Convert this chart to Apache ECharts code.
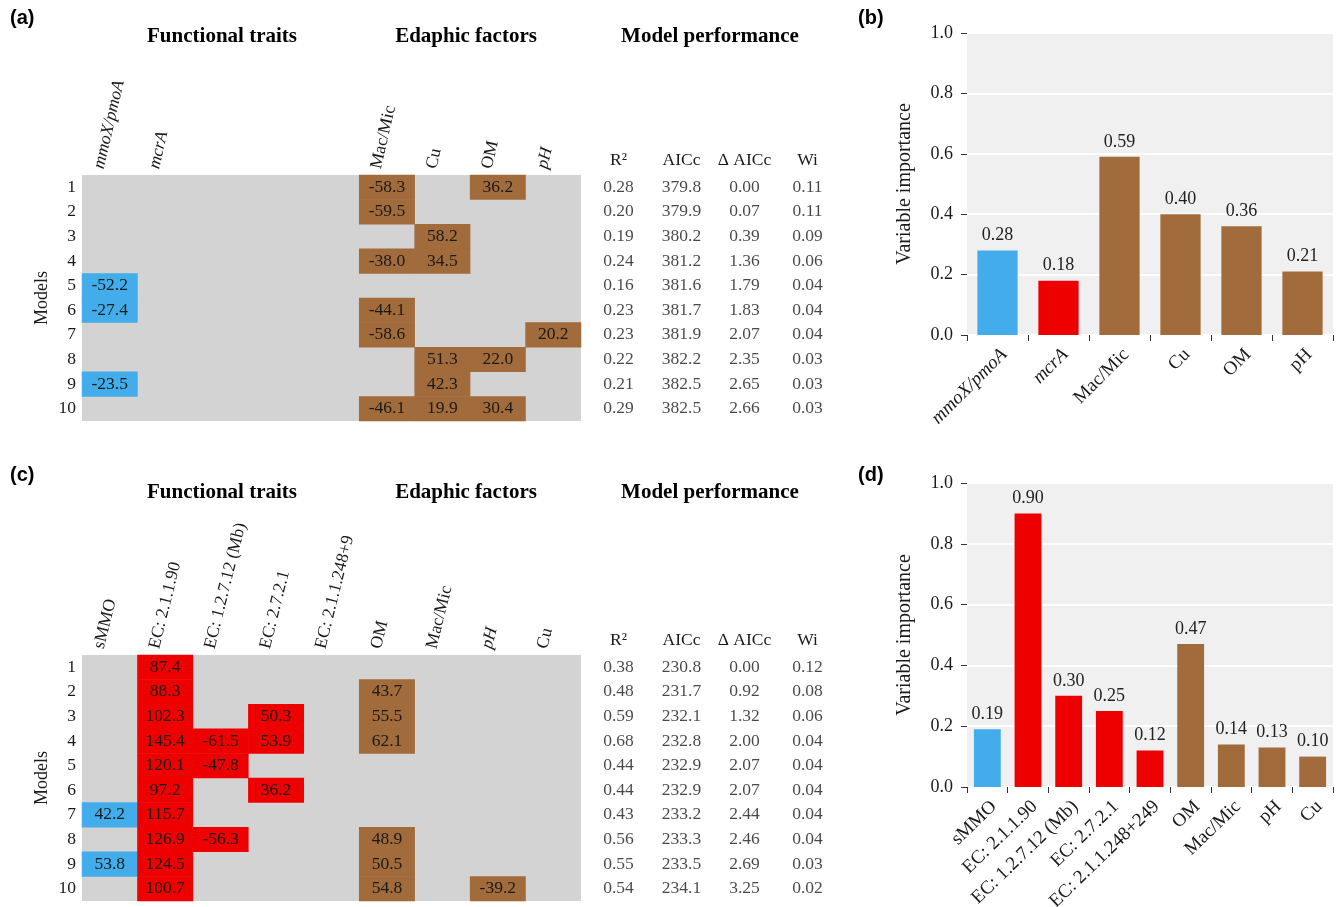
<!DOCTYPE html>
<html><head><meta charset="utf-8">
<script src="https://cdn.jsdelivr.net/npm/echarts@6/dist/echarts.min.js"></script>
<style>html,body{margin:0;padding:0;background:#fff}#c{width:1343px;height:907px}</style>
</head><body><div id="c"></div><script>
// ---------- data ----------
const modelLabels = ['1','2','3','4','5','6','7','8','9','10'];
const perfHeaders = ['R²','AICc','Δ AICc','Wi'];

// panel (a)
const colsA = ['mmoX/pmoA','mcrA',' ','  ','   ','Mac/Mic','Cu','OM','pH'];
const colGroupA = ['mt','mg','','','','ed','ed','ed','ed'];
const italicColsA = ['mmoX/pmoA','mcrA','pH'];
const cellsA = [
  [5,0,-58.3],[7,0,36.2],
  [5,1,-59.5],
  [6,2,58.2],
  [5,3,-38.0],[6,3,34.5],
  [0,4,-52.2],
  [0,5,-27.4],[5,5,-44.1],
  [5,6,-58.6],[8,6,20.2],
  [6,7,51.3],[7,7,22.0],
  [0,8,-23.5],[6,8,42.3],
  [5,9,-46.1],[6,9,19.9],[7,9,30.4]
];
const r2A    = [0.28,0.20,0.19,0.24,0.16,0.23,0.23,0.22,0.21,0.29];
const aiccA  = [379.8,379.9,380.2,381.2,381.6,381.7,381.9,382.2,382.5,382.5];
const daiccA = [0.00,0.07,0.39,1.36,1.79,1.83,2.07,2.35,2.65,2.66];
const wiA    = [0.11,0.11,0.09,0.06,0.04,0.04,0.04,0.03,0.03,0.03];

// panel (b)
const varsB = ['mmoX/pmoA','mcrA','Mac/Mic','Cu','OM','pH'];
const groupB = ['mt','mg','ed','ed','ed','ed'];
const italicB = ['mmoX/pmoA','mcrA'];
const importanceB = [0.28,0.18,0.59,0.40,0.36,0.21];

// panel (c)
const colsC = ['sMMO','EC: 2.1.1.90','EC: 1.2.7.12 (Mb)','EC: 2.7.2.1','EC: 2.1.1.248+9','OM','Mac/Mic','pH','Cu'];
const colGroupC = ['mt','mg','mg','mg','mg','ed','ed','ed','ed'];
const italicColsC = ['pH'];
const cellsC = [
  [1,0,87.4],
  [1,1,88.3],[5,1,43.7],
  [1,2,102.3],[3,2,50.3],[5,2,55.5],
  [1,3,145.4],[2,3,-61.5],[3,3,53.9],[5,3,62.1],
  [1,4,120.1],[2,4,-47.8],
  [1,5,97.2],[3,5,36.2],
  [0,6,42.2],[1,6,115.7],
  [1,7,126.9],[2,7,-56.3],[5,7,48.9],
  [0,8,53.8],[1,8,124.5],[5,8,50.5],
  [1,9,100.7],[5,9,54.8],[7,9,-39.2]
];
const r2C    = [0.38,0.48,0.59,0.68,0.44,0.44,0.43,0.56,0.55,0.54];
const aiccC  = [230.8,231.7,232.1,232.8,232.9,232.9,233.2,233.3,233.5,234.1];
const daiccC = [0.00,0.92,1.32,2.00,2.07,2.07,2.44,2.46,2.69,3.25];
const wiC    = [0.12,0.08,0.06,0.04,0.04,0.04,0.04,0.04,0.03,0.02];

// panel (d)
const varsD = ['sMMO','EC: 2.1.1.90','EC: 1.2.7.12 (Mb)','EC: 2.7.2.1','EC: 2.1.1.248+249','OM','Mac/Mic','pH','Cu'];
const groupD = ['mt','mg','mg','mg','mg','ed','ed','ed','ed'];
const importanceD = [0.19,0.90,0.30,0.25,0.12,0.47,0.14,0.13,0.10];

// ---------- style ----------
const COLORS = {mt:'#42adea', mg:'#ee0000', ed:'#a26b3b'};
const SERIF = '"Liberation Serif","Times New Roman",serif';
const SANS = '"Liberation Sans",Arial,sans-serif';
const TXT = '#1a1a1a';
const perfDecimals = [2,1,2,2];
const FS = 17.5;

// ---------- builders ----------
function heatGrid(top){ return {left:82, width:499, top:top, height:246, show:true, backgroundColor:'#d3d3d3', borderWidth:0, outerBoundsMode:'none', containLabel:false}; }
function tableGrid(top){ return {left:587, width:252, top:top, height:246, show:false, outerBoundsMode:'none', containLabel:false}; }
function barGrid(top,h){ return {left:967, width:366, top:top, height:h, show:true, backgroundColor:'#f0f0f0', borderWidth:0, outerBoundsMode:'none', containLabel:false}; }

function heatX(idx, cols, italics, rot){
  return {type:'category', gridIndex:idx, position:'top', data:cols,
    axisLine:{show:false}, axisTick:{show:false}, splitLine:{show:false},
    axisLabel:{interval:0, rotate:rot, margin:4, color:TXT, fontFamily:SERIF, fontSize:FS, padding:[0,0,22,0],
      formatter:function(v){ const t=v.trim(); if(!t) return ''; return italics.indexOf(t)>=0 ? '{i|'+t+'}' : t; },
      rich:{i:{fontStyle:'italic', fontFamily:SERIF, fontSize:FS, color:TXT}}}};
}
function heatY(idx){
  return {type:'category', gridIndex:idx, data:modelLabels, inverse:true,
    axisLine:{show:false}, axisTick:{show:false}, splitLine:{show:false},
    name:'Models', nameLocation:'middle', nameGap:31, nameRotate:90,
    nameTextStyle:{fontFamily:SERIF, fontSize:18, color:TXT},
    axisLabel:{margin:6, color:TXT, fontFamily:SERIF, fontSize:FS, padding:[0,0,5,0]}};
}
function tableX(idx){
  return {type:'category', gridIndex:idx, position:'top', data:perfHeaders,
    axisLine:{show:false}, axisTick:{show:false}, splitLine:{show:false},
    axisLabel:{interval:0, margin:6, color:TXT, fontFamily:SERIF, fontSize:FS}};
}
function tableY(idx){
  return {type:'category', gridIndex:idx, data:modelLabels, inverse:true, show:false};
}
function barX(idx, vars, italics, rot){
  return {type:'category', gridIndex:idx, data:vars,
    axisLine:{show:false}, axisTick:{show:true, length:6, lineStyle:{color:'#333'}}, splitLine:{show:false},
    axisLabel:{interval:0, rotate:rot, margin:10, verticalAlign:'top', color:TXT, fontFamily:SERIF, fontSize:19,
      formatter:function(v){ return italics.indexOf(v)>=0 ? '{i|'+v+'}' : v; },
      rich:{i:{fontStyle:'italic', fontFamily:SERIF, fontSize:19, color:TXT}}}};
}
function barY(idx){
  return {type:'value', gridIndex:idx, min:0, max:1, interval:0.2,
    axisLine:{show:false}, axisTick:{show:true, length:6, lineStyle:{color:'#333'}},
    splitLine:{show:true, lineStyle:{color:'#ffffff', width:2}},
    name:'Variable importance', nameLocation:'middle', nameGap:52, nameRotate:90,
    nameTextStyle:{fontFamily:SERIF, fontSize:20, color:TXT},
    axisLabel:{margin:14, color:TXT, fontFamily:SERIF, fontSize:18, formatter:function(v){return v.toFixed(1);}}};
}
function heatSeries(idx, cells, groups){
  return {type:'heatmap', xAxisIndex:idx, yAxisIndex:idx,
    data: cells.map(c => ({value:c, itemStyle:{color:COLORS[groups[c[0]]]}})),
    label:{show:true, color:TXT, fontFamily:SERIF, fontSize:FS, formatter:p=>p.value[2].toFixed(1)},
    emphasis:{disabled:true}};
}
function tableSeries(idx, cols){
  const data=[];
  cols.forEach((arr,ci)=>arr.forEach((v,ri)=>data.push([ci,ri,v])));
  return {type:'scatter', xAxisIndex:idx, yAxisIndex:idx, symbolSize:1, itemStyle:{color:'rgba(0,0,0,0)'},
    data:data, silent:true,
    label:{show:true, position:'inside', color:TXT, fontFamily:SERIF, fontSize:FS,
      formatter:p=>p.value[2].toFixed(perfDecimals[p.value[0]])}};
}
function barSeries(idx, vals, groups){
  return {type:'bar', xAxisIndex:idx, yAxisIndex:idx, barWidth:'66%',
    data: vals.map((v,i)=>({value:v, itemStyle:{color:COLORS[groups[i]]}})),
    label:{show:true, position:'top', distance:6, color:'#222', fontFamily:SERIF, fontSize:18, formatter:p=>p.value.toFixed(2)}};
}
function txt(x,y,t,font,align){
  return {type:'text', x:x, y:y, style:{text:t, font:font, fill:'#000', textAlign:align||'center', textVerticalAlign:'middle'}};
}

const chart = echarts.init(document.getElementById('c'), null, {renderer:'canvas'});
chart.setOption({
  animation:false,
  backgroundColor:'#ffffff',
  grid:[heatGrid(175), tableGrid(175), barGrid(33,302), heatGrid(655), tableGrid(655), barGrid(483,304)],
  xAxis:[heatX(0,colsA,italicColsA,-77), tableX(1), barX(2,varsB,italicB,45),
         heatX(3,colsC,italicColsC,-76), tableX(4), barX(5,varsD,[],44)],
  yAxis:[heatY(0), tableY(1), barY(2), heatY(3), tableY(4), barY(5)],
  series:[heatSeries(0,cellsA,colGroupA), tableSeries(1,[r2A,aiccA,daiccA,wiA]), barSeries(2,importanceB,groupB),
          heatSeries(3,cellsC,colGroupC), tableSeries(4,[r2C,aiccC,daiccC,wiC]), barSeries(5,importanceD,groupD)],
  graphic:[
    txt(10,18,'(a)','bold 20px '+SANS,'left'),
    txt(858,18,'(b)','bold 20px '+SANS,'left'),
    txt(10,475,'(c)','bold 20px '+SANS,'left'),
    txt(858,475,'(d)','bold 20px '+SANS,'left'),
    txt(222,37,'Functional traits','bold 21px '+SERIF),
    txt(466,37,'Edaphic factors','bold 21px '+SERIF),
    txt(710,37,'Model performance','bold 21px '+SERIF),
    txt(222,493,'Functional traits','bold 21px '+SERIF),
    txt(466,493,'Edaphic factors','bold 21px '+SERIF),
    txt(710,493,'Model performance','bold 21px '+SERIF)
  ]
});
</script></body></html>
